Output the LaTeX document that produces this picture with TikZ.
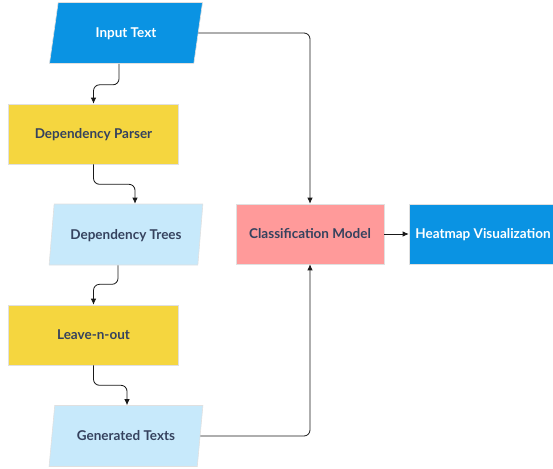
\documentclass[tikz,border=0pt]{standalone}
\usepackage{fontspec}
\setmainfont{Lato}
\usetikzlibrary{shapes.geometric,arrows.meta,calc}
\definecolor{cblue}{HTML}{0A93E3}
\definecolor{cyellow}{HTML}{F5D63F}
\definecolor{clight}{HTML}{C7E9FB}
\definecolor{cpink}{HTML}{FF9A9A}
\definecolor{ctext}{HTML}{35425E}
\begin{document}
\begin{tikzpicture}[x=1pt,y=-1pt,
  base/.style={font=\fontsize{13.5}{15}\selectfont\bfseries, text=ctext, inner sep=0pt, text height=9.5pt, text depth=0pt, draw=black!12, line width=0.6pt},
  para/.style={base, trapezium, trapezium stretches=true, trapezium left angle=67.7, trapezium right angle=112.3, minimum width=154pt, minimum height=61pt},
  rbox/.style={base, rectangle, minimum width=#1, minimum height=60pt},
  conn/.style={draw=black!90, line width=0.8pt, rounded corners=6pt, -{Latex[length=6pt,width=5.5pt]}}
]
\useasboundingbox (0,0) rectangle (553,468);
\node[para, fill=cblue, text=white] (in) at (126,33) {Input Text};
\node[rbox=170pt, fill=cyellow] (dp) at (93.5,134) {Dependency Parser};
\node[para, fill=clight] (dt) at (126,234.5) {Dependency Trees};
\node[rbox=170pt, fill=cyellow] (lo) at (93.5,335) {Leave-n-out};
\node[para, fill=clight] (gt) at (126,436) {Generated Texts};
\node[rbox=148pt, fill=cpink] (cm) at (310,234) {Classification Model};
\node[rbox=148pt, fill=cblue, text=white] (hm) at (483,234) {Heatmap Visualization};

\draw[conn] ([xshift=-7pt]in.south) -- ++(0,21) -| (dp.north);
\draw[conn] (dp.south) -- ++(0,20) -| ([xshift=9pt]dt.north);
\draw[conn] ([xshift=-8pt]dt.south) -- ++(0,19) -| (lo.north);
\draw[conn] (lo.south) -- ++(0,20) -| ([xshift=1pt]gt.north);
\draw[conn] (in.east) -| (cm.north);
\draw[conn] (gt.east) -| (cm.south);
\draw[conn] (cm.east) -- (hm.west);
\end{tikzpicture}
\end{document}
